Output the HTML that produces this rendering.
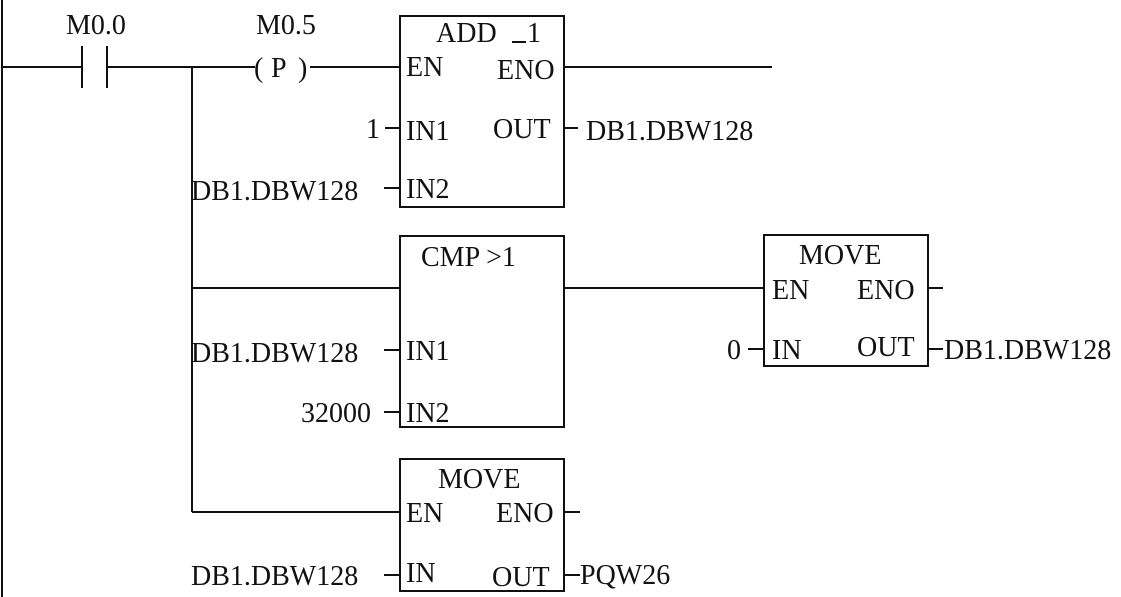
<!DOCTYPE html>
<html><head><meta charset="utf-8"><style>
html,body{margin:0;padding:0;background:#fff;width:1121px;height:597px;overflow:hidden}
svg{display:block}
text{font-family:"Liberation Serif",serif;font-size:28px;fill:#111}
</style></head><body>
<svg width="1121" height="597" viewBox="0 0 1121 597" xmlns="http://www.w3.org/2000/svg">
<g stroke="#111" stroke-width="2" fill="none">
<line x1="2" y1="0" x2="2" y2="597"/>
<line x1="2" y1="67" x2="82" y2="67"/>
<line x1="82" y1="46" x2="82" y2="88"/>
<line x1="107" y1="46" x2="107" y2="88"/>
<line x1="107" y1="67" x2="255" y2="67"/>
<line x1="310" y1="67" x2="400" y2="67"/>
<line x1="192" y1="67" x2="192" y2="512"/>
<rect x="400" y="16" width="164" height="191"/>
<line x1="564" y1="67" x2="772" y2="67"/>
<line x1="385" y1="128" x2="400" y2="128"/>
<line x1="384" y1="188" x2="400" y2="188"/>
<line x1="564" y1="128" x2="578" y2="128"/>
<rect x="400" y="236" width="164" height="191"/>
<line x1="192" y1="288" x2="400" y2="288"/>
<line x1="564" y1="288" x2="764" y2="288"/>
<line x1="384" y1="350" x2="400" y2="350"/>
<line x1="384" y1="412" x2="400" y2="412"/>
<rect x="764" y="235" width="164" height="131"/>
<line x1="928" y1="288" x2="943" y2="288"/>
<line x1="748" y1="349" x2="764" y2="349"/>
<line x1="928" y1="349" x2="943" y2="349"/>
<rect x="400" y="459" width="164" height="132"/>
<line x1="192" y1="512" x2="400" y2="512"/>
<line x1="564" y1="512" x2="580" y2="512"/>
<line x1="384" y1="575" x2="400" y2="575"/>
<line x1="564" y1="575" x2="580" y2="575"/>
<line x1="512" y1="42" x2="526" y2="42"/>
</g>
<text x="66" y="34">M0.0</text>
<text x="256" y="34">M0.5</text>
<text x="254" y="77">(</text>
<text x="271" y="77">P</text>
<text x="298" y="77">)</text>
<text x="436" y="42">ADD</text>
<text x="527" y="42">1</text>
<text x="406" y="76">EN</text>
<text x="497" y="79">ENO</text>
<text x="366" y="138">1</text>
<text x="406" y="140">IN1</text>
<text x="493" y="138">OUT</text>
<text x="586" y="140">DB1.DBW128</text>
<text x="191" y="200">DB1.DBW128</text>
<text x="406" y="198">IN2</text>
<text x="421" y="266">CMP &gt;1</text>
<text x="191" y="362">DB1.DBW128</text>
<text x="406" y="360">IN1</text>
<text x="301" y="422">32000</text>
<text x="406" y="422">IN2</text>
<text x="799" y="264">MOVE</text>
<text x="772" y="299">EN</text>
<text x="857" y="299">ENO</text>
<text x="727" y="359">0</text>
<text x="772" y="359">IN</text>
<text x="857" y="356">OUT</text>
<text x="944" y="359">DB1.DBW128</text>
<text x="438" y="488">MOVE</text>
<text x="406" y="522">EN</text>
<text x="496" y="522">ENO</text>
<text x="191" y="585">DB1.DBW128</text>
<text x="406" y="582">IN</text>
<text x="492" y="586">OUT</text>
<text x="580" y="584">PQW26</text>
</svg>
</body></html>
